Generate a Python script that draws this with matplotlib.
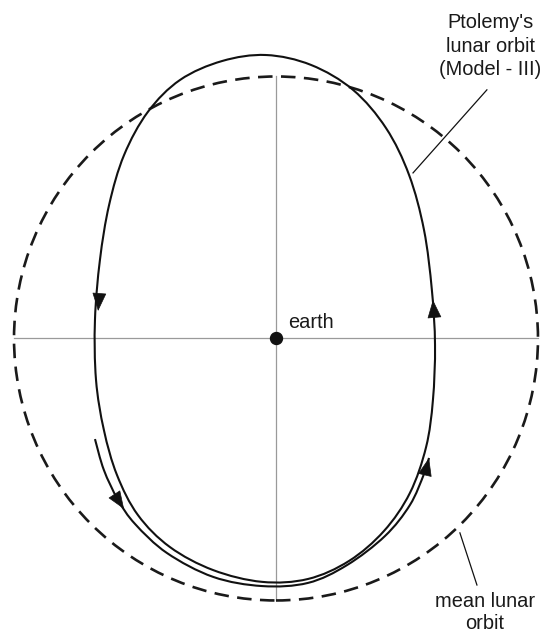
import numpy as np
import matplotlib.pyplot as plt
from matplotlib.path import Path
from matplotlib.patches import PathPatch, Circle

plt.rcParams['font.family'] = ['Liberation Sans', 'DejaVu Sans']

# units: radius of the mean lunar orbit = 100, earth at the origin
mean_radius = 100

# Ptolemy's lunar orbit (Model - III)
orbit_x = [-3.8, -20.6, -36.6, -48.9, -58.0, -63.7, -67.2, -69.1, -68.7, -65.7,
           -60.7, -52.7, -40.5, -24.0, -5.3, 12.2, 27.9, 41.2, 51.1, 57.3,
           59.9, 60.7, 59.5, 56.5, 50.8, 42.0, 29.4, 13.4]
orbit_y = [108.2, 105.9, 98.7, 86.5, 70.0, 51.0, 30.0, 7.1, -15.8, -34.9,
           -52.1, -67.4, -79.6, -88.4, -92.9, -91.8, -84.9, -73.5, -59.0, -41.4,
           -23.5, -2.5, 18.5, 41.4, 62.4, 80.3, 94.9, 104.4]

# direction arc drawn outside the bottom of the orbit
arc_x = [-69.1, -65.7, -60.3, -53.8, -41.6, -24.0, -5.3, 12.2, 27.1, 41.6,
         51.1, 56.5, 58.4]
arc_y = [-38.4, -50.2, -61.6, -70.8, -81.9, -91.0, -94.5, -93.3, -86.5, -75.4,
         -63.6, -51.7, -45.6]

# arrowheads: (tail, tip)
arrows = [((-67.6, 14.7), (-67.9, 10.5)),
          ((60.3, 10.1), (59.9, 14.7)),
          ((-60.3, -61.6), (-58.0, -65.1)),
          ((57.3, -50.2), (58.4, -45.6))]


def smooth_path(xs, ys, closed=False):
    pts = np.column_stack([xs, ys])
    n = len(pts)
    if closed:
        ext = np.vstack([pts[-1], pts, pts[0], pts[1]])
        segs = n
    else:
        ext = np.vstack([pts[0], pts, pts[-1]])
        segs = n - 1
    verts = [pts[0]]
    codes = [Path.MOVETO]
    for i in range(segs):
        p0, p1, p2, p3 = ext[i], ext[i + 1], ext[i + 2], ext[i + 3]
        verts += [p1 + (p2 - p0) / 6, p2 - (p3 - p1) / 6, p2]
        codes += [Path.CURVE4] * 3
    return Path(verts, codes)


fig = plt.figure(figsize=(5.45, 6.34), dpi=100)
ax = fig.add_axes([0, 0, 1, 1])
ax.set_xlim(-105.35, 102.68)
ax.set_ylim(-112.8, 129.2)
ax.axis('off')

# cross lines through earth
ax.plot([0, 0], [-mean_radius, mean_radius], color='#9a9a9a', lw=0.9, zorder=1)
ax.plot([-mean_radius, mean_radius], [0, 0], color='#9a9a9a', lw=0.9, zorder=1)

# mean lunar orbit
circ = Circle((0, 0), mean_radius, fill=False, color='#1a1a1a', lw=1.9,
              linestyle=(0, (5.5, 3.2)), zorder=2)
ax.add_patch(circ)

# Ptolemy's orbit
ax.add_patch(PathPatch(smooth_path(orbit_x, orbit_y, closed=True), fill=False,
                       color='#111111', lw=1.5, zorder=3))
ax.add_patch(PathPatch(smooth_path(arc_x, arc_y), fill=False,
                       color='#111111', lw=1.5, zorder=3))

for tail, tip in arrows:
    ax.annotate('', xy=tip, xytext=tail,
                arrowprops=dict(arrowstyle='-|>,head_length=0.85,head_width=0.33',
                                mutation_scale=14, color='#111111', lw=0.5,
                                shrinkA=0, shrinkB=0), zorder=4)

# earth
ax.plot(0, 0, 'o', color='#111111', markersize=8.6, zorder=5)
ax.text(4.6, 4.0, 'earth', fontsize=14.4, color='#1a1a1a',
        ha='left', va='baseline')

# labels with leader lines
ax.plot([52.3, 80.5], [63.2, 94.9], color='#111111', lw=0.9)
ax.text(81.7, 111.6, "Ptolemy's\nlunar orbit\n(Model - III)", fontsize=14.4,
        color='#1a1a1a', ha='center', va='center', linespacing=1.3)

ax.plot([70.2, 76.7], [-74.2, -94.1], color='#111111', lw=0.9)
ax.text(79.8, -104.6, 'mean lunar\norbit', fontsize=14.4, color='#1a1a1a',
        ha='center', va='center', linespacing=1.15)

fig.savefig('out.png', dpi=100)
